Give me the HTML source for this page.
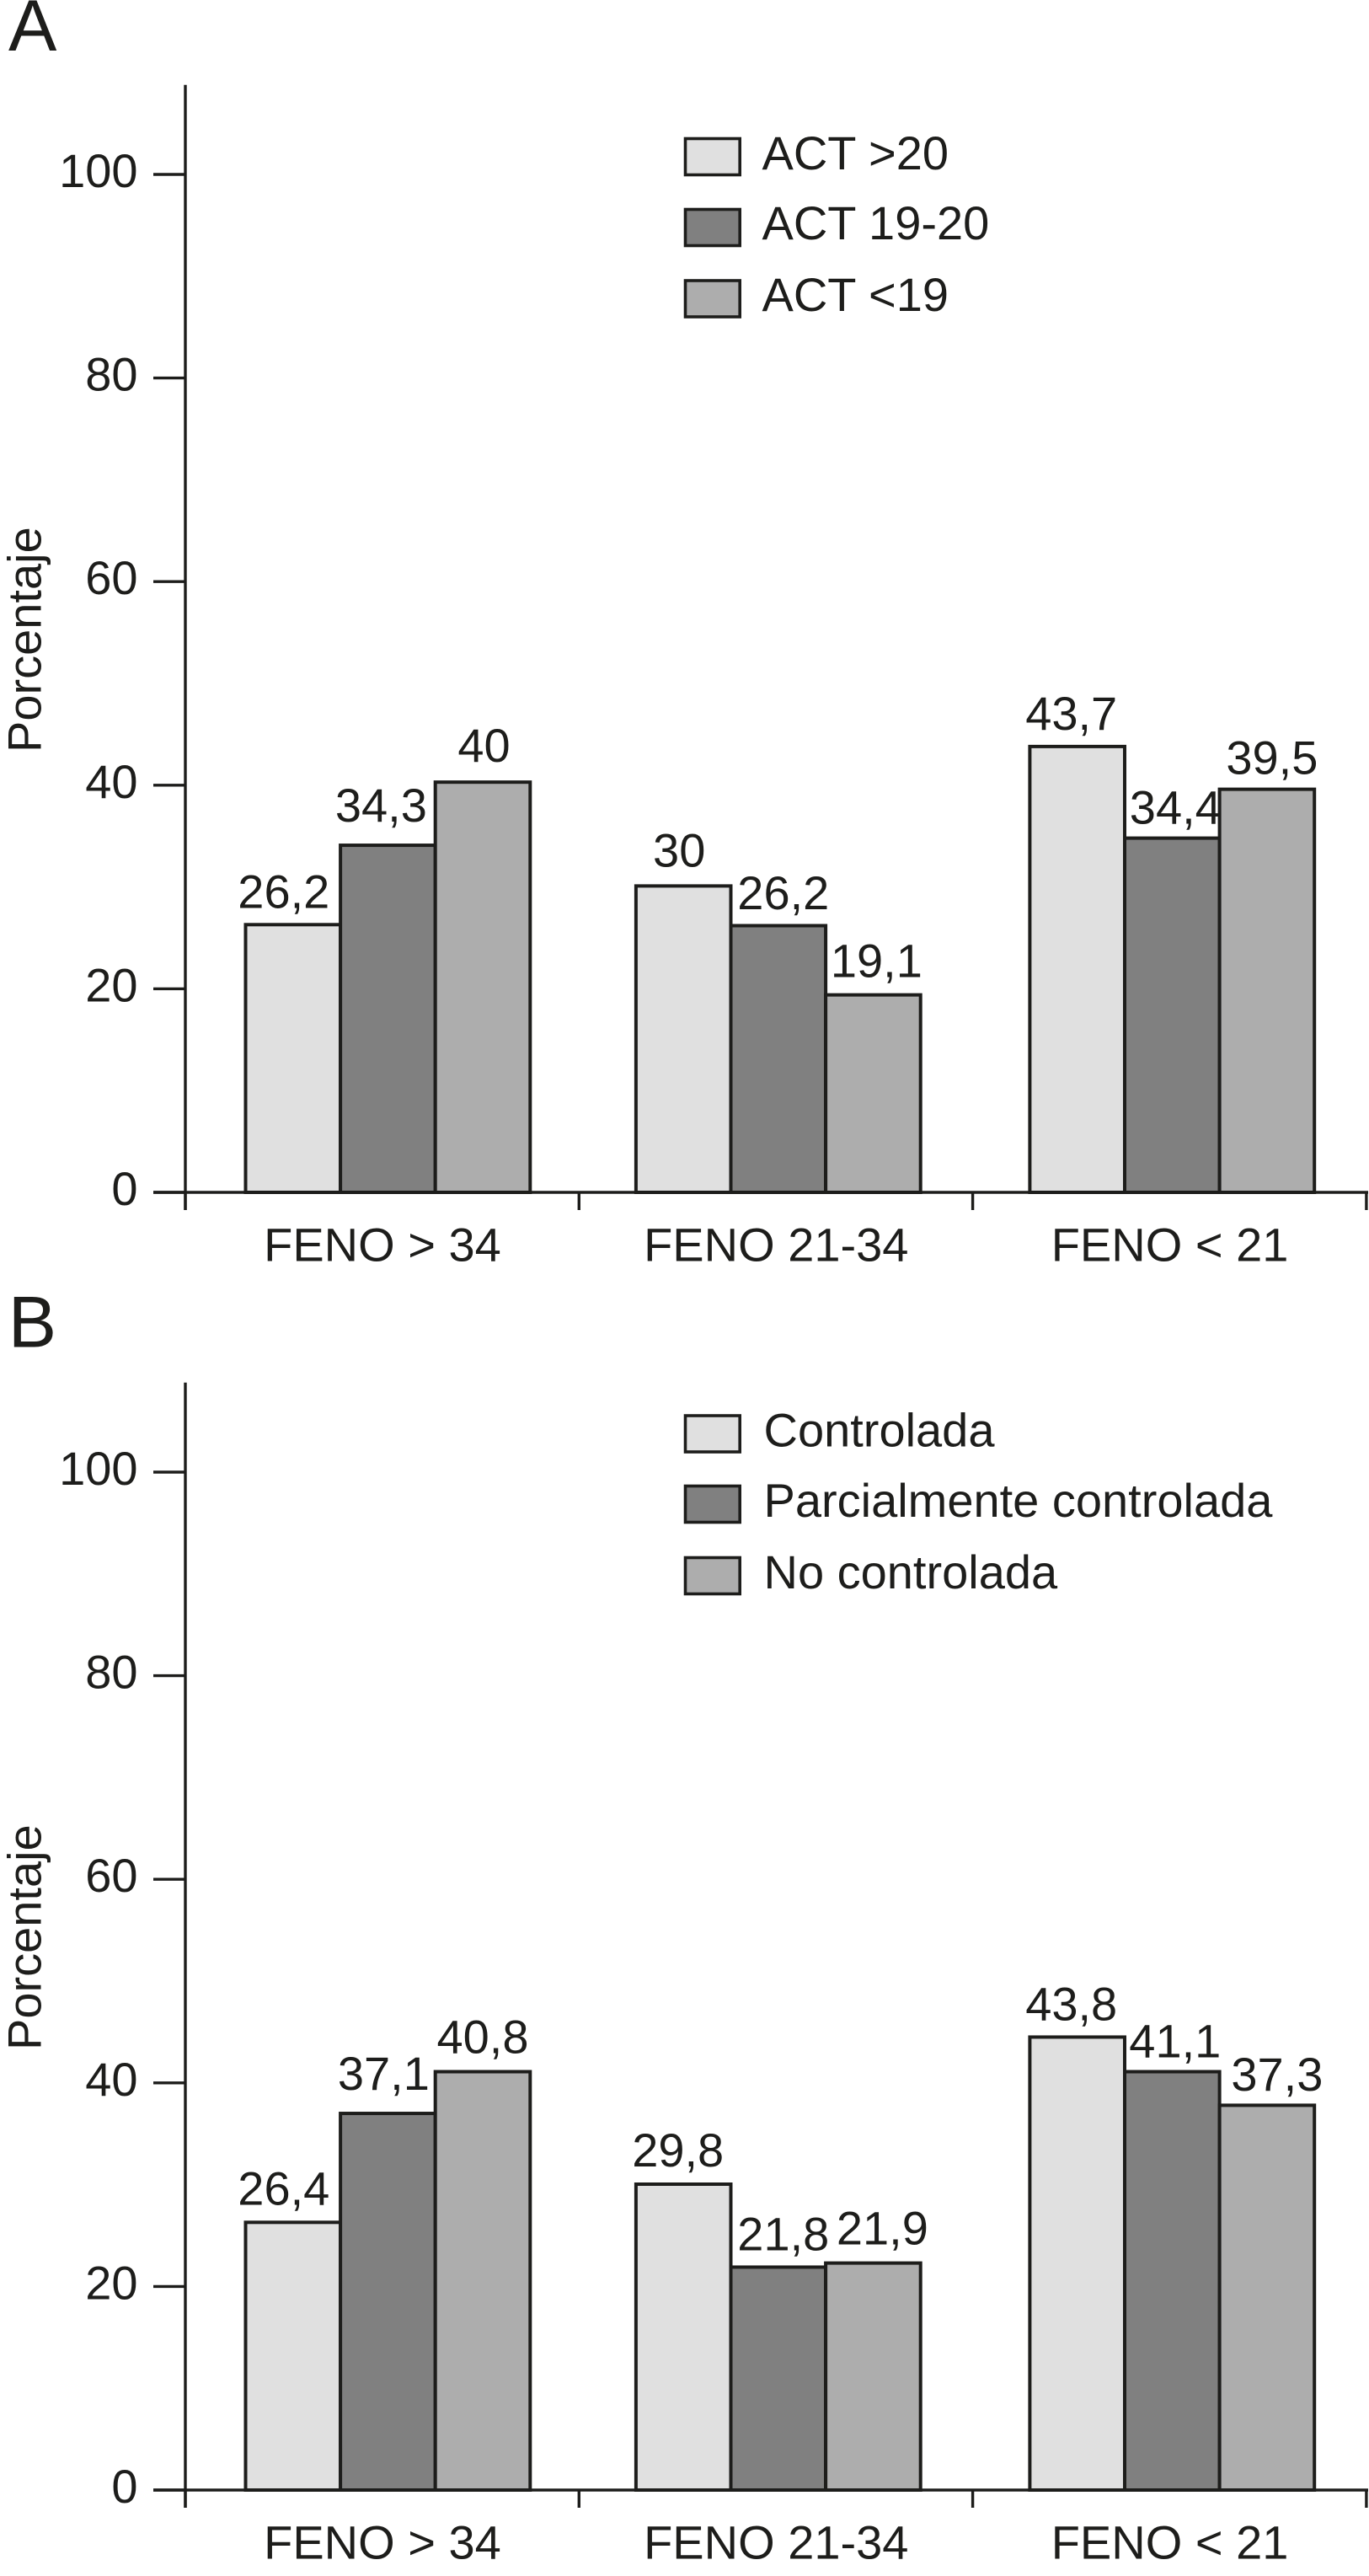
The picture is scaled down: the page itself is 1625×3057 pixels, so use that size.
<!DOCTYPE html>
<html lang="es">
<head>
<meta charset="utf-8">
<title>Porcentaje por FENO y control del asma</title>
<style>
  html, body { margin: 0; padding: 0; background: #ffffff; }
  body { width: 1625px; height: 3057px; overflow: hidden; }
  svg { display: block; }
  text { font-family: "Liberation Sans", Arial, sans-serif; fill: #1d1d1b; }
</style>
</head>
<body>
<svg id="fig" xmlns="http://www.w3.org/2000/svg" width="1625" height="3057" viewBox="0 0 1625 3057"></svg>
<script>
// ---- Data shared by both panels ----
const categories = ["FENO > 34", "FENO 21-34", "FENO < 21"];
const yTickValues = [0, 20, 40, 60, 80, 100];
const yTitle = "Porcentaje";

// ---- Panel A: bar heights, one array per series ----
const panelALegend = ["ACT >20", "ACT 19-20", "ACT <19"];
const panelAHigh = [26.3, 30.1, 43.8];
const panelAMid = [34.1, 26.2, 34.8];
const panelALow = [40.3, 19.4, 39.6];
// Values as printed above the bars
const panelAHighLabels = ["26,2", "30", "43,7"];
const panelAMidLabels = ["34,3", "26,2", "34,4"];
const panelALowLabels = ["40", "19,1", "39,5"];

// ---- Panel B: bar heights, one array per series ----
const panelBLegend = ["Controlada", "Parcialmente controlada", "No controlada"];
const panelBControlled = [26.3, 30.05, 44.5];
const panelBPartial = [37.0, 21.9, 41.1];
const panelBUncontrolled = [41.1, 22.3, 37.8];
// Values as printed above the bars
const panelBControlledLabels = ["26,4", "29,8", "43,8"];
const panelBPartialLabels = ["37,1", "21,8", "41,1"];
const panelBUncontrolledLabels = ["40,8", "21,9", "37,3"];

function draw() {
  const svg = document.getElementById('fig');
  const NS = 'http://www.w3.org/2000/svg';
  const INK = '#1d1d1b';
  const FILLS = ['#e0e0e0', '#808080', '#adadad'];
  const FONT = 56;

  function make(tag, attrs, parent) {
    const node = document.createElementNS(NS, tag);
    for (const key in attrs) node.setAttribute(key, attrs[key]);
    parent.appendChild(node);
    return node;
  }

  // Hand-placed label nudges of the original artwork: [horizontal shift, gap above bar]
  const nudgesA = [
    [[-11, 20], [-5, 23], [-7, 20]],
    [[-8, 28], [6, 19.6], [4, 17]],
    [[1.5, 24], [4, 21], [6, 18]]
  ];
  const nudgesB = [
    [[-11, 21], [-6.5, 21], [-7, 20]],
    [[-5, 28], [6, 20], [3.5, 17]],
    [[0, 22], [11, 22], [12, 17.5]]
  ];

  function panel(cfg) {
    const g = make('g', {}, svg);
    
    

    const axisX = 220;
    const bandW = 467.3;
    const barW = 112.6;
    const groupInset = [71.5, 67.6, 67.8];
    const unit = 241.6 / 20;
    const xBand = function (i) { return axisX + bandW * i; };
    const yScale = function (v) { return cfg.y0 - v * unit; };

    // Panel letter
    const letter = make('text', { x: cfg.letterX, y: cfg.letterY, 'font-size': 86 }, g);
    letter.textContent = cfg.id.toUpperCase();
    
    

    // Bars
    cfg.series.forEach(function (vals, s) {
      vals.forEach(function (v, c) {
        const x = xBand(c) + groupInset[c] + barW * s;
        const bar = make('rect', {
          x: x, y: yScale(v), width: barW, height: cfg.y0 - yScale(v),
          fill: FILLS[s], stroke: INK, 'stroke-width': 4
        }, g);
        
        
      });
    });

    // Printed values
    cfg.labels.forEach(function (labs, s) {
      labs.forEach(function (txt, c) {
        const x = xBand(c) + groupInset[c] + barW * s + barW / 2;
        const n = cfg.nudges[s][c];
        const lab = make('text', {
          x: x + n[0], y: yScale(cfg.series[s][c]) - n[1],
          'font-size': FONT, 'text-anchor': 'middle'
        }, g);
        lab.textContent = txt;
        
        
      });
    });

    // Y axis
    const yAxis = make('line', {
      x1: axisX, x2: axisX, y1: cfg.y0 - 1314.3, y2: cfg.y0 + 21,
      stroke: INK, 'stroke-width': 3.4
    }, g);
    
    

    yTickValues.forEach(function (t) {
      const tick = make('line', {
        x1: 182, x2: axisX, y1: yScale(t), y2: yScale(t),
        stroke: INK, 'stroke-width': 3.4
      }, g);
      
      

      const tl = make('text', {
        x: 163.5, y: yScale(t) + 15, 'font-size': FONT, 'text-anchor': 'end'
      }, g);
      tl.textContent = String(t);
      
      
    });

    // X axis
    const xAxis = make('line', {
      x1: 182, x2: 1624, y1: cfg.y0, y2: cfg.y0,
      stroke: INK, 'stroke-width': 3.4
    }, g);
    
    

    for (let i = 0; i <= categories.length; i++) {
      const xt = make('line', {
        x1: xBand(i), x2: xBand(i), y1: cfg.y0, y2: cfg.y0 + 21,
        stroke: INK, 'stroke-width': 3.4
      }, g);
      
      
    }

    categories.forEach(function (name, i) {
      const cl = make('text', {
        x: xBand(i) + bandW / 2 + 0.3, y: cfg.y0 + 81.6,
        'font-size': FONT, 'text-anchor': 'middle'
      }, g);
      cl.textContent = name;
      
      
    });

    // Y axis title
    const title = make('text', {
      transform: 'translate(48.5 ' + (cfg.y0 - 522) + ') rotate(-90)',
      'font-size': FONT
    }, g);
    title.textContent = yTitle;
    
    

    // Legend
    cfg.legend.forEach(function (name, i) {
      const sw = make('rect', {
        x: 813.5, y: cfg.legendBoxY[i], width: 64.7, height: 43,
        fill: FILLS[i], stroke: INK, 'stroke-width': 3.6
      }, g);
      
      

      const lt = make('text', {
        x: cfg.legendTextX, y: cfg.legendTextY[i], 'font-size': FONT
      }, g);
      lt.textContent = name;
      
      
    });
  }

  panel({
    id: 'a', y0: 1415, letterX: 10, letterY: 60,
    series: [panelAHigh, panelAMid, panelALow],
    labels: [panelAHighLabels, panelAMidLabels, panelALowLabels],
    nudges: nudgesA, legend: panelALegend,
    legendBoxY: [164.5, 248.5, 333], legendTextX: 904.5, legendTextY: [201, 284, 369]
  });
  panel({
    id: 'b', y0: 2955, letterX: 9.8, letterY: 1598.5,
    series: [panelBControlled, panelBPartial, panelBUncontrolled],
    labels: [panelBControlledLabels, panelBPartialLabels, panelBUncontrolledLabels],
    nudges: nudgesB, legend: panelBLegend,
    legendBoxY: [1680, 1763.5, 1848.5], legendTextX: 906.5, legendTextY: [1716.7, 1800, 1885]
  });
}
draw();
</script>
</body>
</html>
